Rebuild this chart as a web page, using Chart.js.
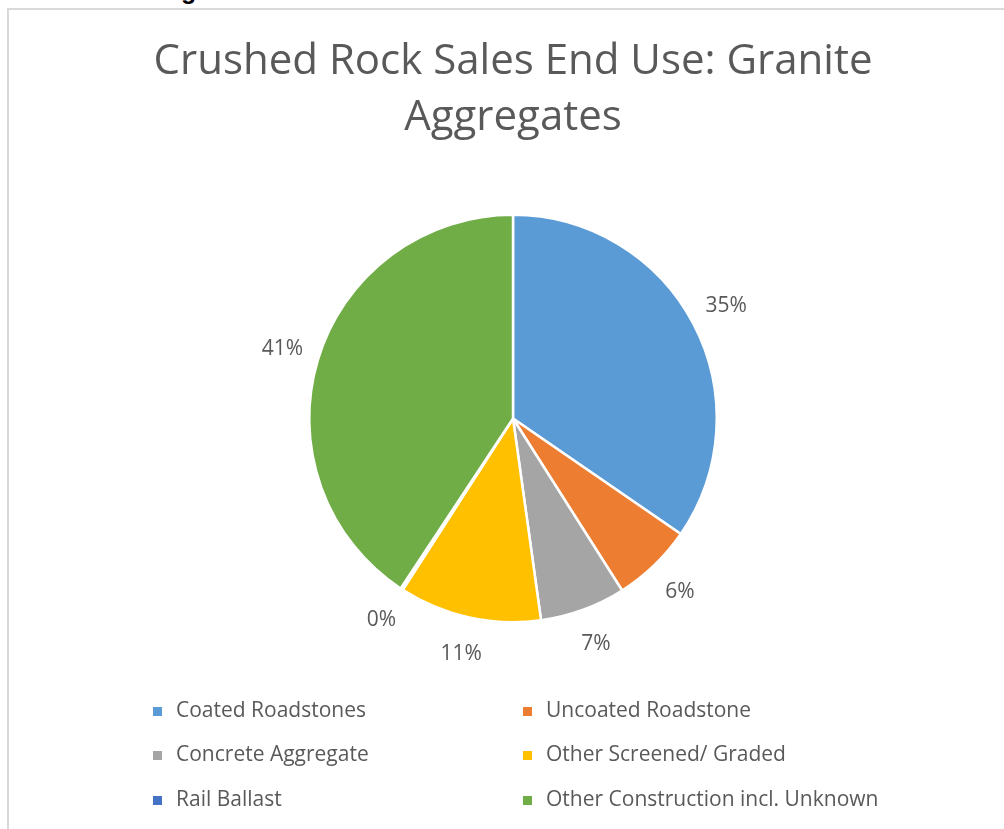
<!DOCTYPE html>
<html>
<head>
<meta charset="utf-8">
<script src="https://cdn.jsdelivr.net/npm/chart.js@4/dist/chart.umd.min.js"></script>
<style>
  html, body { margin: 0; padding: 0; background: #fff; }
  body { width: 1004px; height: 829px; position: relative; overflow: hidden; }
  #cut { position: absolute; left: 0; width: 1004px; top: -24px; text-align: center;
         font: bold 25px "Liberation Sans", Arial, sans-serif; color: #000; white-space: nowrap; }
  #frame { position: absolute; left: 7px; top: 8px; width: 1010px; height: 840px;
           border-left: 2px solid #d9d9d9; border-top: 2px solid #d9d9d9; background: #fff; }
  #wrap { position: absolute; left: 0; top: 0; width: 1004px; height: 829px; }
</style>
</head>
<body>
<div id="cut">Figure 3.8: Crushed Rock Sales End Use: Cornish Granite</div>
<div id="frame"></div>
<div id="wrap"><canvas id="c" width="1004" height="829"></canvas></div>
<script>
const titleLines = ["Crushed Rock Sales End Use: Granite", "Aggregates"];
const categories = ["Coated Roadstones", "Uncoated Roadstone", "Concrete Aggregate",
                    "Other Screened/ Graded", "Rail Ballast", "Other Construction incl. Unknown"];
const shares = [34.6, 6.4, 6.8, 11.3, 0.2, 40.7];
const colors = ["#5B9BD5", "#ED7D31", "#A5A5A5", "#FFC000", "#4472C4", "#70AD47"];

const FONT = "'Open Sans', sans-serif";
const TXT = "#595959";

const extras = {
  id: "extras",
  afterDraw(chart) {
    const ctx = chart.ctx;
    const meta = chart.getDatasetMeta(0);
    const total = shares.reduce((a, b) => a + b, 0);
    ctx.save();
    // title
    ctx.fillStyle = TXT;
    ctx.textAlign = "center";
    ctx.textBaseline = "middle";
    ctx.font = "42px " + FONT;
    ctx.fillText(titleLines[0], 513, 62);
    ctx.fillText(titleLines[1], 513, 118);
    // data labels
    ctx.font = "21px " + FONT;
    meta.data.forEach((arc, i) => {
      const p = arc.getProps(["x", "y", "startAngle", "endAngle", "outerRadius"], true);
      const mid = (p.startAngle + p.endAngle) / 2;
      const r = p.outerRadius + 37;
      const x = p.x + Math.cos(mid) * r;
      const y = p.y + Math.sin(mid) * r;
      const pct = Math.round(shares[i] / total * 100) + "%";
      ctx.fillText(pct, x, y);
    });
    // legend (2 columns)
    ctx.font = "21px " + FONT;
    ctx.textAlign = "left";
    const colX = [157, 527];
    const rowY = [711, 755, 800];
    categories.forEach((name, i) => {
      const cx = colX[i % 2], cy = rowY[Math.floor(i / 2)];
      ctx.fillStyle = colors[i];
      ctx.fillRect(cx - 4, cy - 4, 9, 9);
      ctx.fillStyle = TXT;
      ctx.fillText(name, cx + 19, cy);
    });
    ctx.restore();
  }
};

new Chart(document.getElementById("c"), {
  type: "pie",
  data: {
    labels: categories,
    datasets: [{
      data: shares,
      backgroundColor: colors,
      borderColor: "#ffffff",
      borderWidth: 2.5,
      hoverOffset: 0
    }]
  },
  options: {
    responsive: false,
    animation: false,
    events: [],
    layout: { padding: { left: 308, right: 286, top: 213, bottom: 205 } },
    plugins: {
      legend: { display: false },
      title: { display: false },
      tooltip: { enabled: false }
    }
  },
  plugins: [extras]
});
</script>
</body>
</html>
